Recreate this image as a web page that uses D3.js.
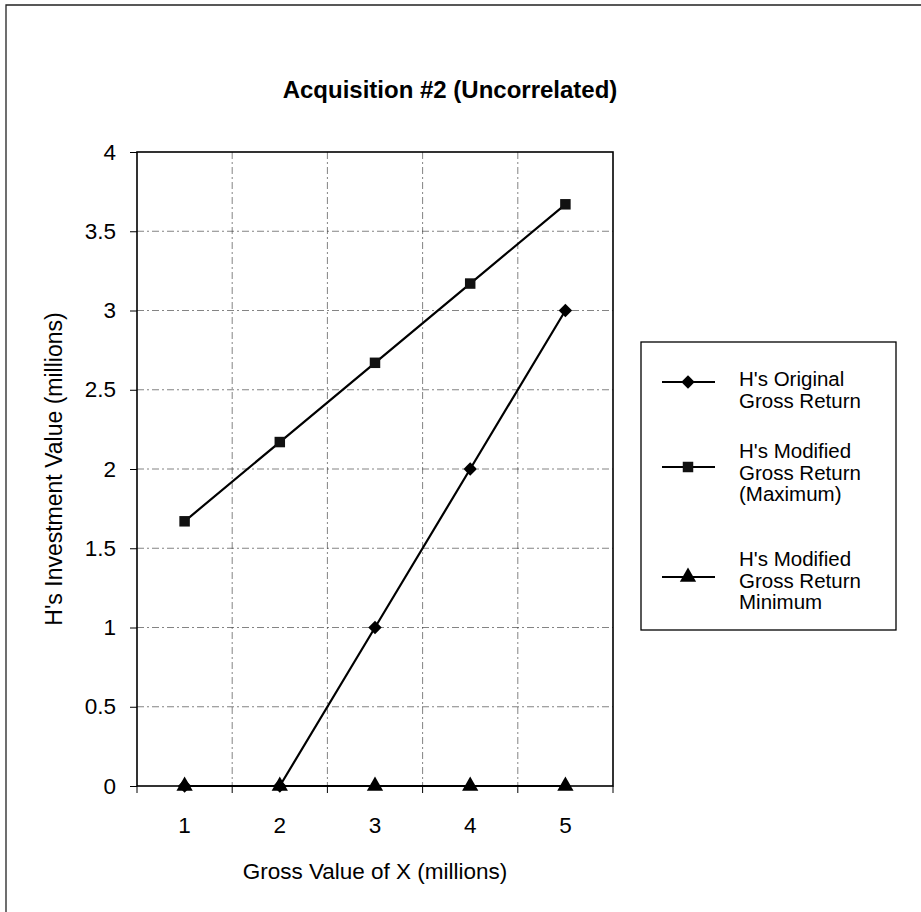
<!DOCTYPE html>
<html>
<head>
<meta charset="utf-8">
<script src="https://cdn.jsdelivr.net/npm/d3@7"></script>
<style>
  html, body { margin: 0; padding: 0; background: #fff; }
  svg { display: block; font-family: "Liberation Sans", Arial, sans-serif; }
</style>
</head>
<body>
<svg id="chart" width="921" height="912"></svg>
<script>
// ---- data ----
const categories = ["1", "2", "3", "4", "5"];
const originalGross = [0, 0, 1, 2, 3];
const modifiedMax = [1.67, 2.17, 2.67, 3.17, 3.67];
const modifiedMin = [0, 0, 0, 0, 0];
const yTicks = [0, 0.5, 1, 1.5, 2, 2.5, 3, 3.5, 4];
const yTickLabels = ["0", "0.5", "1", "1.5", "2", "2.5", "3", "3.5", "4"];
const seriesNames = [
  ["H's Original", "Gross Return"],
  ["H's Modified", "Gross Return", "(Maximum)"],
  ["H's Modified", "Gross Return", "Minimum"]
];
const titleText = "Acquisition #2 (Uncorrelated)";
const xTitle = "Gross Value of X (millions)";
const yTitle = "H's Investment Value (millions)";

// ---- layout ----
const svg = d3.select("#chart");
const plot = { left: 137, right: 613, top: 152, bottom: 786 };
const FONT = "Liberation Sans, Arial, sans-serif";

const x = d3.scaleBand().domain(categories).range([plot.left, plot.right]).padding(0);
const y = d3.scaleLinear().domain([0, 4]).range([plot.bottom, plot.top]);
const cx = c => x(c) + x.bandwidth() / 2;

// outer frame (left and top edges visible)
svg.append("path")
  .attr("d", `M6,912 L6,5 L921,5`)
  .attr("fill", "none").attr("stroke", "#222").attr("stroke-width", 1.3);

// title
svg.append("text")
  .attr("x", 450).attr("y", 98)
  .attr("text-anchor", "middle")
  .attr("font-size", 24).attr("font-weight", "bold")
  .attr("fill", "#000")
  .text(titleText);

// gridlines
const gridStyle = sel => sel.attr("stroke", "#333").attr("stroke-width", 1)
  .attr("stroke-dasharray", "7,3,2,3").attr("opacity", 0.6);

svg.append("g").selectAll("line")
  .data(yTicks.filter(t => t > 0 && t < 4))
  .join("line")
  .attr("x1", plot.left).attr("x2", plot.right)
  .attr("y1", d => y(d)).attr("y2", d => y(d))
  .call(gridStyle);

svg.append("g").selectAll("line")
  .data(categories.slice(1))
  .join("line")
  .attr("x1", d => x(d)).attr("x2", d => x(d))
  .attr("y1", plot.top).attr("y2", plot.bottom)
  .call(gridStyle);

// y axis
const yAxis = d3.axisLeft(y)
  .tickValues(yTicks)
  .tickFormat((d, i) => yTickLabels[i])
  .tickSizeOuter(0).tickSizeInner(7).tickPadding(14);
const yg = svg.append("g").attr("transform", `translate(${plot.left},0)`).call(yAxis);
yg.select(".domain").remove();
yg.selectAll(".tick line").attr("stroke", "#000").attr("stroke-width", 1);
yg.selectAll(".tick text").attr("font-size", 22.5).attr("fill", "#000")
  .attr("font-family", FONT);

// x axis: labels centred on categories, ticks at category boundaries
const xAxis = d3.axisBottom(x).tickSize(0).tickPadding(47);
const xg = svg.append("g").attr("transform", `translate(0,${plot.bottom})`).call(xAxis);
xg.select(".domain").remove();
xg.selectAll(".tick text").attr("font-size", 22.5).attr("fill", "#000")
  .attr("font-family", FONT).attr("dy", "0");
const boundaries = categories.map(c => x(c)).concat([x(categories[categories.length - 1]) + x.bandwidth()]);
svg.append("g").selectAll("line")
  .data(boundaries)
  .join("line")
  .attr("x1", d => d).attr("x2", d => d)
  .attr("y1", plot.bottom).attr("y2", plot.bottom + 7)
  .attr("stroke", "#000").attr("stroke-width", 1);

// plot border
svg.append("rect")
  .attr("x", plot.left).attr("y", plot.top)
  .attr("width", plot.right - plot.left).attr("height", plot.bottom - plot.top)
  .attr("fill", "none").attr("stroke", "#000").attr("stroke-width", 1.6);

// axis titles
svg.append("text")
  .attr("x", (plot.left + plot.right) / 2).attr("y", 879)
  .attr("text-anchor", "middle").attr("font-size", 22.5).attr("fill", "#000")
  .text(xTitle);
svg.append("text")
  .attr("transform", `translate(62,${(plot.top + plot.bottom) / 2}) rotate(-90)`)
  .attr("text-anchor", "middle").attr("font-size", 23).attr("fill", "#000")
  .text(yTitle);

// series
const series = [
  { values: originalGross, symbol: d3.symbolSquare, size: 90, rotate: 45, fill: "#000" },
  { values: modifiedMax, symbol: d3.symbolSquare, size: 110, rotate: 0, fill: "#111" },
  { values: modifiedMin, symbol: d3.symbolTriangle, size: 115, rotate: 0, fill: "#000" }
];
const line = d3.line().x((d, i) => cx(categories[i])).y(d => y(d));

series.forEach(s => {
  svg.append("path")
    .datum(s.values)
    .attr("d", line)
    .attr("fill", "none").attr("stroke", "#000").attr("stroke-width", 2.2);
});
series.forEach(s => {
  svg.append("g").selectAll("path")
    .data(s.values)
    .join("path")
    .attr("transform", (d, i) => `translate(${cx(categories[i])},${y(d)}) rotate(${s.rotate})`)
    .attr("d", d3.symbol().type(s.symbol).size(s.size))
    .attr("fill", s.fill);
});

// legend
const legend = { x: 641, y: 342, w: 255, h: 288 };
svg.append("rect")
  .attr("x", legend.x).attr("y", legend.y)
  .attr("width", legend.w).attr("height", legend.h)
  .attr("fill", "#fff").attr("stroke", "#000").attr("stroke-width", 1.3);

const legendRows = [
  { lineY: 382, textY: 386 },
  { lineY: 467, textY: 458 },
  { lineY: 577, textY: 566 }
];
const lineH = 21.5;
series.forEach((s, i) => {
  const r = legendRows[i];
  svg.append("line")
    .attr("x1", 662).attr("x2", 715)
    .attr("y1", r.lineY).attr("y2", r.lineY)
    .attr("stroke", "#000").attr("stroke-width", 2);
  svg.append("path")
    .attr("transform", `translate(688,${r.lineY}) rotate(${s.rotate})`)
    .attr("d", d3.symbol().type(s.symbol).size(s.size))
    .attr("fill", s.fill);
  const t = svg.append("text")
    .attr("x", 739).attr("y", r.textY)
    .attr("font-size", 20.5).attr("fill", "#000");
  seriesNames[i].forEach((ln, j) => {
    t.append("tspan").attr("x", 739).attr("dy", j === 0 ? 0 : lineH).text(ln);
  });
});
</script>
</body>
</html>
